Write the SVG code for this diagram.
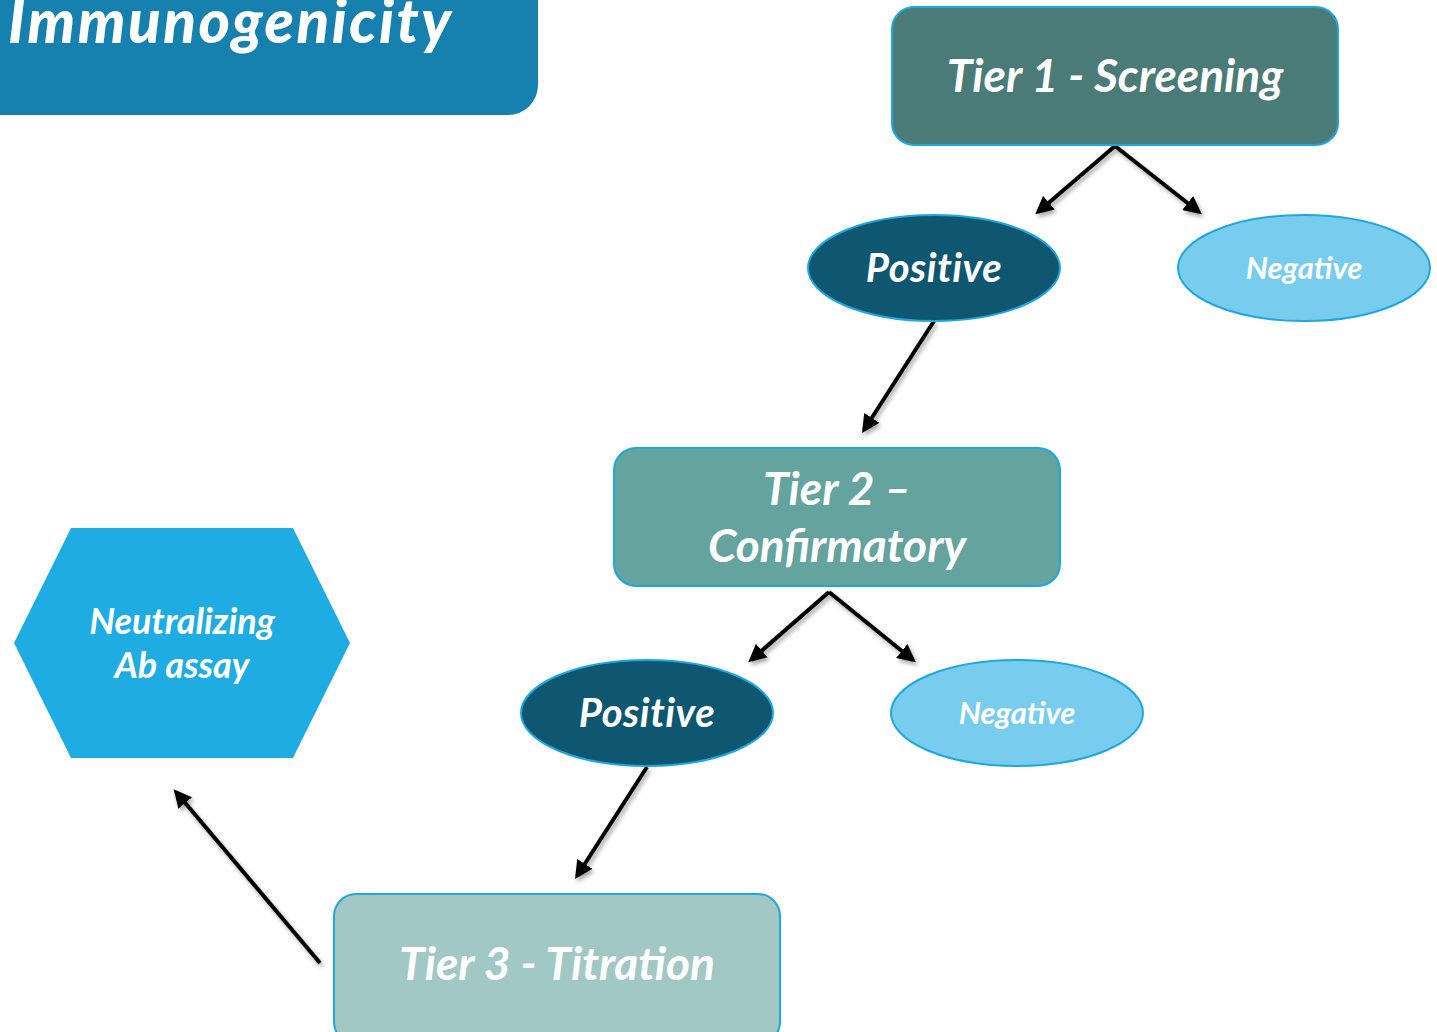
<svg xmlns="http://www.w3.org/2000/svg" width="1437" height="1032" viewBox="0 0 1437 1032">
<style>
.t{font-family:Lato,"Open Sans","Noto Sans",sans-serif;font-weight:bold;font-style:italic;fill:#fff;text-anchor:middle}
.box{stroke:#1FA8E0;stroke-width:2}
.conn{stroke:#000;stroke-width:4;fill:none;marker-end:url(#ah);filter:url(#sh)}
</style>
<defs>
<marker id="ah" viewBox="0 0 10 10" refX="8" refY="5" markerWidth="4.5" markerHeight="4.5" orient="auto" markerUnits="strokeWidth">
<path d="M0,0 L10,5 L0,10 z" fill="#000"/>
</marker>
<filter id="sh" x="-20%" y="-20%" width="140%" height="140%">
<feDropShadow dx="2" dy="3" stdDeviation="2" flood-color="#000" flood-opacity="0.35"/>
</filter>
</defs>
<rect width="1437" height="1032" fill="#fff"/>
<g id="title">
<path d="M-10,-10 H538 V85 A30,30 0 0 1 508,115 H-10 Z" fill="#1681AE"/>
<text x="8" y="43" font-family="Lato,'Open Sans',sans-serif" font-weight="900" font-style="italic" font-size="60" letter-spacing="2.5" fill="#fff">Immunogenicity</text>
</g>
<g id="connectors">
<line class="conn" x1="1115" y1="146" x2="1038" y2="212"/>
<line class="conn" x1="1115" y1="146" x2="1199" y2="212"/>
<line class="conn" x1="934" y1="321" x2="864" y2="430"/>
<line class="conn" x1="829" y1="592" x2="751" y2="660"/>
<line class="conn" x1="829" y1="592" x2="913" y2="660"/>
<line class="conn" x1="647" y1="767" x2="577" y2="876"/>
<line class="conn" x1="320" y1="963" x2="176" y2="792"/>
</g>
<g id="tier1">
<rect class="box" x="892" y="7" width="446" height="138" rx="22" fill="#4A7B77"/>
<text class="t" x="1115" y="92" font-size="46">Tier 1 - Screening</text>
</g>
<g id="positive1">
<ellipse class="box" cx="934" cy="268" rx="126" ry="53" fill="#0F5771"/>
<text class="t" x="934" y="282" font-size="40" letter-spacing="0.5">Positive</text>
</g>
<g id="negative1">
<ellipse class="box" cx="1304" cy="268" rx="126" ry="53" fill="#78CDEF"/>
<text class="t" x="1304" y="279" font-size="31">Negative</text>
</g>
<g id="tier2">
<rect class="box" x="614" y="448" width="446" height="138" rx="22" fill="#64A39E"/>
<text class="t" x="837" y="505" font-size="46">Tier 2 –</text>
<text class="t" x="837" y="562" font-size="46">Confirmatory</text>
</g>
<g id="positive2">
<ellipse class="box" cx="647" cy="713" rx="126" ry="53" fill="#0F5771"/>
<text class="t" x="647" y="727" font-size="40" letter-spacing="0.5">Positive</text>
</g>
<g id="negative2">
<ellipse class="box" cx="1017" cy="713" rx="126" ry="53" fill="#78CDEF"/>
<text class="t" x="1017" y="724" font-size="31">Negative</text>
</g>
<g id="tier3">
<rect class="box" x="334" y="894" width="446" height="150" rx="22" fill="#A2C8C5"/>
<text class="t" x="557" y="980" font-size="46">Tier 3 - Titration</text>
</g>
<g id="neutralizing">
<polygon points="14,643 71,528 293,528 350,643 293,758 71,758" fill="#1EACE3"/>
<text class="t" x="182" y="634" font-size="36">Neutralizing</text>
<text class="t" x="182" y="678" font-size="36">Ab assay</text>
</g>
</svg>
